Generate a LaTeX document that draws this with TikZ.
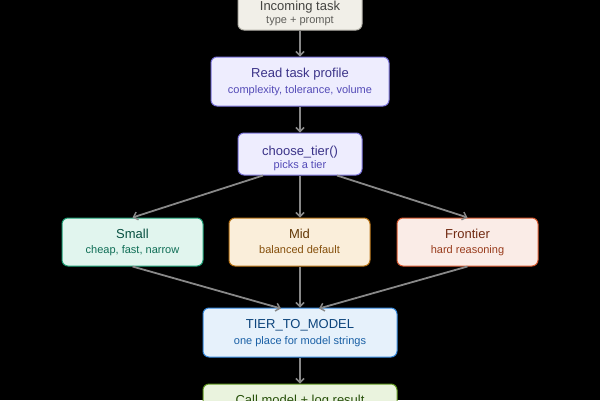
\documentclass[tikz,border=0pt]{standalone}
\usepackage{fontspec}
\setmainfont{Liberation Sans}
\usetikzlibrary{arrows.meta}
\definecolor{grayF}{HTML}{F1EFE8}\definecolor{grayD}{HTML}{B4B2A9}\definecolor{grayT}{HTML}{444441}\definecolor{grayS}{HTML}{5F5E5A}
\definecolor{purF}{HTML}{EEEDFE}\definecolor{purD}{HTML}{7F77DD}\definecolor{purT}{HTML}{3C3489}\definecolor{purS}{HTML}{534AB7}
\definecolor{tealF}{HTML}{E1F5EE}\definecolor{tealD}{HTML}{1D9E75}\definecolor{tealT}{HTML}{085041}\definecolor{tealS}{HTML}{0F6E56}
\definecolor{ambF}{HTML}{FAEEDA}\definecolor{ambD}{HTML}{BA7517}\definecolor{ambT}{HTML}{633806}\definecolor{ambS}{HTML}{854F0B}
\definecolor{corF}{HTML}{FAECE7}\definecolor{corD}{HTML}{D85A30}\definecolor{corT}{HTML}{712B13}\definecolor{corS}{HTML}{993C1D}
\definecolor{bluF}{HTML}{E6F1FB}\definecolor{bluD}{HTML}{378ADD}\definecolor{bluT}{HTML}{0C447C}\definecolor{bluS}{HTML}{185FA5}
\definecolor{grnF}{HTML}{EAF3DE}\definecolor{grnD}{HTML}{639922}\definecolor{grnT}{HTML}{27500A}
\definecolor{arr}{HTML}{888888}
\tikzset{
  box/.style={draw, rounded corners=6pt, line width=1pt, inner sep=0pt, anchor=center},
  ttl/.style={font=\fontsize{13}{13}\selectfont, inner sep=0pt, anchor=base},
  sub/.style={font=\fontsize{11}{11}\selectfont, inner sep=0pt, anchor=base},
  conn/.style={draw=arr, line width=1.8pt, -{Straight Barb[length=4pt,width=8pt,line width=1.5pt]}},
}
\begin{document}
\begin{tikzpicture}[x=1pt,y=-1pt]
\fill[black] (0,0) rectangle (600,400);
\clip (0,0) rectangle (600,400);
% boxes
\node[box, fill=grayF, draw=grayD, minimum width=124pt, minimum height=42pt] (inc) at (300,9) {};
\node[box, fill=purF, draw=purD, minimum width=178pt, minimum height=49pt] (read) at (300,81.5) {};
\node[box, fill=purF, draw=purD, minimum width=124pt, minimum height=42pt] (choose) at (300,154) {};
\node[box, fill=tealF, draw=tealD, minimum width=141pt, minimum height=48pt] (small) at (132.5,242) {};
\node[box, fill=ambF, draw=ambD, minimum width=141pt, minimum height=48pt] (mid) at (299.5,242) {};
\node[box, fill=corF, draw=corD, minimum width=141pt, minimum height=48pt] (front) at (467.5,242) {};
\node[box, fill=bluF, draw=bluD, minimum width=194pt, minimum height=49pt] (tier) at (300,332.5) {};
\node[box, fill=grnF, draw=grnD, minimum width=194pt, minimum height=49pt] (call) at (300,408.5) {};
% texts
\node[ttl, text=grayT] (incT) at (300,10.4) {Incoming task};
\node[sub, text=grayS] (incS) at (300,23.3) {type + prompt};
\node[ttl, text=purT] (readT) at (300,77.7) {Read task profile};
\node[sub, text=purS] (readS) at (300,93) {complexity, tolerance, volume};
\node[ttl, text=purT] (chooseT) at (300,155.4) {choose\_tier()};
\node[sub, text=purS] (chooseS) at (300,168) {picks a tier};
\node[ttl, text=tealT] (smallT) at (132.5,238.2) {Small};
\node[sub, text=tealS] (smallS) at (132.5,253.5) {cheap, fast, narrow};
\node[ttl, text=ambT] (midT) at (299.5,238.2) {Mid};
\node[sub, text=ambS] (midS) at (299.5,253.5) {balanced default};
\node[ttl, text=corT] (frontT) at (467.5,238.2) {Frontier};
\node[sub, text=corS] (frontS) at (467.5,253.5) {hard reasoning};
\node[ttl, text=bluT] (tierT) at (300,328) {TIER\_TO\_MODEL};
\node[sub, text=bluS] (tierS) at (300,344) {one place for model strings};
\node[ttl, text=grnT] (callT) at (300,404.7) {Call model + log result};
% connectors
\draw[conn] (inc.south) -- (read.north);
\draw[conn] (read.south) -- (choose.north);
\draw[conn] ([xshift=-37pt]choose.south) -- (small.north);
\draw[conn] (choose.south) -- (mid.north -| choose.south);
\draw[conn] ([xshift=37pt]choose.south) -- (front.north);
\draw[conn] (small.south) -- ([xshift=-19pt,yshift=-1pt]tier.north);
\draw[conn] (mid.south -| tier.north) -- (tier.north);
\draw[conn] (front.south) -- ([xshift=19pt,yshift=-1pt]tier.north);
\draw[conn] (tier.south) -- (call.north);
\end{tikzpicture}
\end{document}
